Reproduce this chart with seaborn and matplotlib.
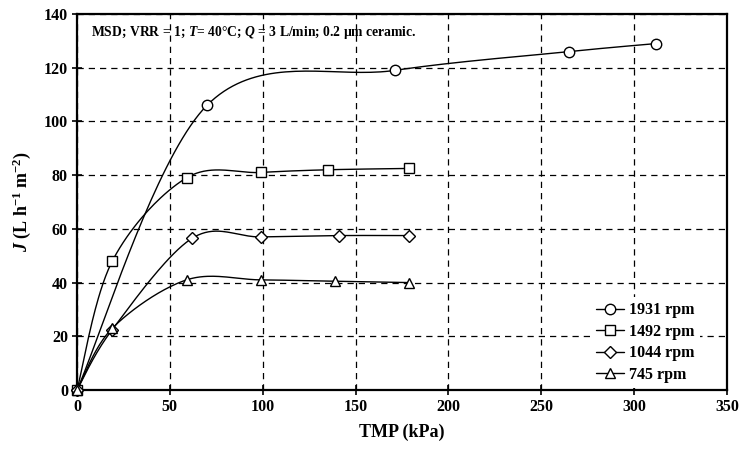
import numpy as np
import pandas as pd
import matplotlib
matplotlib.use("Agg")
import matplotlib.pyplot as plt
from matplotlib.lines import Line2D
import seaborn as sns

# ---- data ----
tmp_1931 = [0, 70, 171, 265, 312]
j_1931 = [0, 106, 119, 126, 129]
tmp_1492 = [0, 19, 59, 99, 135, 179]
j_1492 = [0, 48, 79, 81, 82, 82.5]
tmp_1044 = [0, 19, 62, 99, 141, 179]
j_1044 = [0, 22.5, 56.5, 57, 57.5, 57.5]
tmp_745 = [0, 19, 59, 99, 139, 179]
j_745 = [0, 23, 41, 41, 40.5, 40]
labels = ["1931 rpm", "1492 rpm", "1044 rpm", "745 rpm"]
markers = ["o", "s", "D", "^"]

series = [(tmp_1931, j_1931), (tmp_1492, j_1492), (tmp_1044, j_1044), (tmp_745, j_745)]

sns.set_style("ticks")
plt.rcParams['font.family'] = ['Liberation Serif', 'DejaVu Serif']
plt.rcParams['font.weight'] = 'bold'
plt.rcParams['text.color'] = 'black'
plt.rcParams['axes.labelcolor'] = 'black'
plt.rcParams['xtick.color'] = 'black'
plt.rcParams['ytick.color'] = 'black'
plt.rcParams['mathtext.fontset'] = 'custom'
plt.rcParams['mathtext.rm'] = 'Liberation Serif:bold'
plt.rcParams['mathtext.it'] = 'Liberation Serif:italic:bold'
plt.rcParams['mathtext.bf'] = 'Liberation Serif:bold'


def smooth(x, y, n=40):
    """Bezier smoothing (Excel-like, Catmull-Rom control points)."""
    P = np.column_stack([x, y]).astype(float)
    out = []
    for i in range(len(P) - 1):
        p0 = P[i - 1] if i > 0 else P[i]
        p1 = P[i]
        p2 = P[i + 1]
        p3 = P[i + 2] if i + 2 < len(P) else P[i + 1]
        c1 = p1 + (p2 - p0) / 6.0
        c2 = p2 - (p3 - p1) / 6.0
        t = np.linspace(0, 1, n)[:, None]
        b = ((1 - t) ** 3) * p1 + 3 * ((1 - t) ** 2) * t * c1 + 3 * (1 - t) * t ** 2 * c2 + t ** 3 * p2
        out.append(b if i == 0 else b[1:])
    arr = np.vstack(out)
    return arr[:, 0], arr[:, 1]


fig = plt.figure(figsize=(7.44, 4.55), dpi=100)
ax = fig.add_axes([77 / 744, 1 - 390 / 455, 650 / 744, 376 / 455])

handles = []
for (xs, ys), lab, m in zip(series, labels, markers):
    sx, sy = smooth(xs, ys)
    df = pd.DataFrame({"x": sx, "y": sy})
    sns.lineplot(data=df, x="x", y="y", sort=False, estimator=None, color="black",
                 linewidth=1.0, ax=ax, zorder=2)
    ms = 6.2 if m == "D" else 7.5
    ax.plot(xs, ys, linestyle="none", marker=m, markersize=ms, mfc="white",
            mec="black", mew=1.0, zorder=3, clip_on=False)
    handles.append(Line2D([], [], color="black", lw=1.0, marker=m, markersize=ms,
                          mfc="white", mec="black", mew=1.0))

ax.set_xlim(0, 350)
ax.set_ylim(0, 140)
ax.set_xticks(np.arange(0, 351, 50))
ax.set_yticks(np.arange(0, 141, 20))
ax.grid(True, color="black", linestyle=(0, (5, 4)), linewidth=0.9)
ax.set_axisbelow(True)
for s in ax.spines.values():
    s.set_visible(True)
    s.set_linewidth(1.6)
    s.set_color("black")
ax.tick_params(axis="both", direction="inout", length=7, width=1.2, colors="black",
               labelsize=11.5, pad=3)
for lab in ax.get_xticklabels() + ax.get_yticklabels():
    lab.set_fontweight("bold")
    lab.set_color("black")

ax.set_xlabel("TMP (kPa)", fontsize=13, fontweight="bold", labelpad=6, color="black")
ax.set_ylabel(r"$J$ (L h$^{-1}$ m$^{-2}$)", fontsize=13, fontweight="bold", labelpad=8,
              color="black")

ax.text(0.022, 0.95, r"MSD; VRR = 1; $T$= 40°C; $Q$ = 3 L/min; 0.2 µm ceramic.",
        transform=ax.transAxes, fontsize=9.8, fontweight="bold", va="center", ha="left",
        color="black")

leg = ax.legend(handles, labels, loc="lower right", bbox_to_anchor=(0.97, -0.015),
                frameon=True, prop={"weight": "bold", "size": 11.5},
                handlelength=1.8, handletextpad=0.3, labelspacing=0.35,
                borderpad=0.3)
leg.get_frame().set_facecolor("white")
leg.get_frame().set_edgecolor("none")
leg.get_frame().set_alpha(1.0)
for t in leg.get_texts():
    t.set_color("black")

fig.savefig("out.png", dpi=100)
